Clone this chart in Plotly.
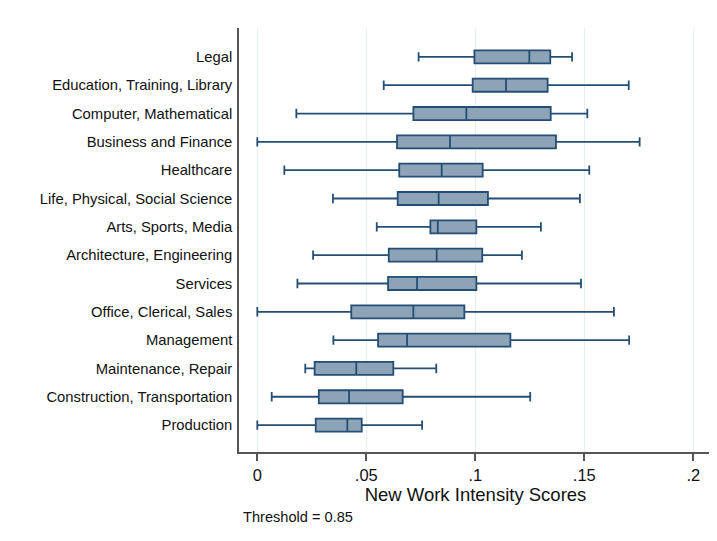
import plotly.graph_objects as go

categories = ["Legal", "Education, Training, Library", "Computer, Mathematical",
              "Business and Finance", "Healthcare", "Life, Physical, Social Science",
              "Arts, Sports, Media", "Architecture, Engineering", "Services",
              "Office, Clerical, Sales", "Management", "Maintenance, Repair",
              "Construction, Transportation", "Production"]
lower = [0.0740, 0.0580, 0.0179, 0.0000, 0.0124, 0.0347, 0.0548, 0.0256, 0.0184,
         0.0000, 0.0349, 0.0220, 0.0066, 0.0000]
q1 = [0.0996, 0.0988, 0.0716, 0.0641, 0.0651, 0.0644, 0.0794, 0.0603, 0.0600,
      0.0431, 0.0554, 0.0263, 0.0282, 0.0268]
median = [0.1248, 0.1141, 0.0959, 0.0884, 0.0846, 0.0832, 0.0828, 0.0823, 0.0733,
          0.0716, 0.0687, 0.0454, 0.0421, 0.0413]
q3 = [0.1344, 0.1332, 0.1346, 0.1370, 0.1034, 0.1058, 0.1005, 0.1032, 0.1005,
      0.0950, 0.1161, 0.0624, 0.0667, 0.0479]
upper = [0.1444, 0.1704, 0.1514, 0.1754, 0.1523, 0.1480, 0.1301, 0.1214, 0.1485,
         0.1636, 0.1706, 0.0821, 0.1252, 0.0756]
tick_vals = [0, 0.05, 0.1, 0.15, 0.2]
tick_text = ["0", ".05", ".1", ".15", ".2"]

fig = go.Figure()
fig.add_trace(go.Box(
    y=categories, q1=q1, median=median, q3=q3,
    lowerfence=lower, upperfence=upper,
    orientation="h", width=0.46, whiskerwidth=0.72,
    fillcolor="rgb(141,163,184)",
    line=dict(color="rgb(36,78,115)", width=1.8),
    hoverinfo="skip", showlegend=False,
))

fig.update_layout(
    width=709, height=533,
    margin=dict(l=231, r=5, t=20, b=89, autoexpand=False),
    paper_bgcolor="white", plot_bgcolor="white",
    font=dict(family="Liberation Sans, Arial, sans-serif", color="#111111"),
    xaxis=dict(
        range=[-0.0084, 0.2086], tickvals=tick_vals, ticktext=tick_text,
        showgrid=True, gridcolor="#e6eff1", gridwidth=1,
        zeroline=False, showline=True, linecolor="#555555", linewidth=1.5,
        ticks="outside", ticklen=7, tickwidth=1.5, tickcolor="#555555",
        tickfont=dict(size=16.5, color="#111111"),
        title=dict(text="New Work Intensity Scores", font=dict(size=18.5, color="#111111"),
                   standoff=0),
    ),
    yaxis=dict(
        type="category", categoryorder="array", categoryarray=categories[::-1],
        range=[-0.95, 14.02], showgrid=False, zeroline=False,
        showline=True, linecolor="#555555", linewidth=1.5,
        ticks="", ticklabelstandoff=2,
        tickfont=dict(size=14.8, color="#111111"),
    ),
    annotations=[dict(
        text="Threshold = 0.85", xref="paper", yref="paper",
        x=0.005, y=-0.153, xanchor="left", yanchor="middle",
        showarrow=False, font=dict(size=14.6, color="#111111"),
    )],
)

fig.write_html("out.html")
